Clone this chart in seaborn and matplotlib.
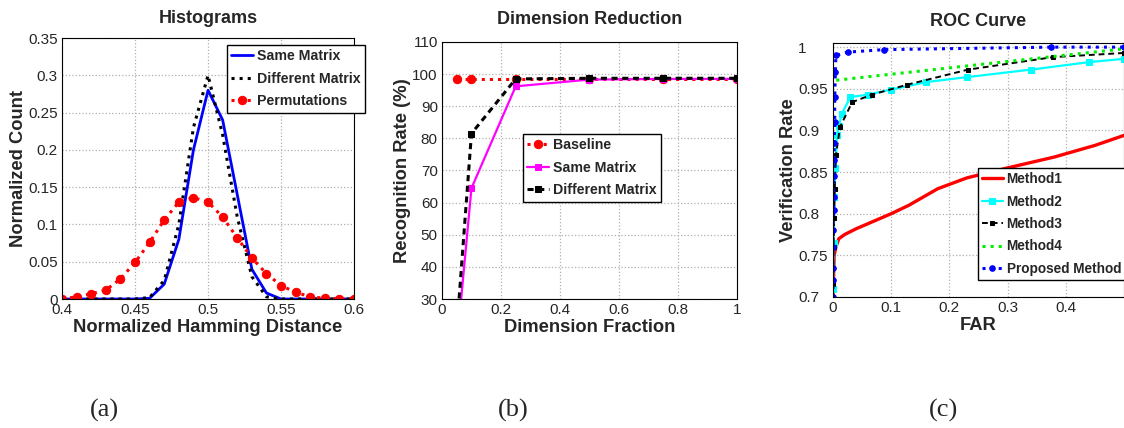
import matplotlib
matplotlib.use("Agg")
import matplotlib.pyplot as plt
import seaborn as sns
import numpy as np
from matplotlib.ticker import FormatStrFormatter

# ---- panel (a) histograms ----
hd_x = [0.40, 0.41, 0.42, 0.43, 0.44, 0.45, 0.46, 0.47, 0.48, 0.49, 0.50,
        0.51, 0.52, 0.53, 0.54, 0.55, 0.56, 0.57, 0.58, 0.59, 0.60]
same_hist = [0, 0, 0, 0, 0, 0, 0.001, 0.02, 0.08, 0.20, 0.28,
             0.24, 0.14, 0.04, 0.008, 0, 0, 0, 0, 0, 0]
diff_hist = [0, 0, 0, 0, 0, 0, 0.002, 0.025, 0.10, 0.23, 0.30,
             0.22, 0.11, 0.03, 0.003, 0, 0, 0, 0, 0, 0]
perm_hist = [0, 0.003, 0.007, 0.012, 0.027, 0.049, 0.076, 0.106, 0.130, 0.136, 0.130,
             0.110, 0.082, 0.055, 0.034, 0.018, 0.009, 0.003, 0.001, 0.0005, 0]

# ---- panel (b) dimension reduction ----
dim_frac = [0.05, 0.1, 0.25, 0.5, 0.75, 1.0]
baseline_rate = [98.5, 98.5, 98.5, 98.5, 98.5, 98.5]
same_rate = [15.2, 64.5, 96.2, 98.3, 98.5, 98.5]
diff_rate = [20.2, 81.5, 98.5, 98.7, 98.7, 98.7]

# ---- panel (c) ROC ----
m1_far = [0, 0.002, 0.005, 0.01, 0.02, 0.04, 0.1, 0.13, 0.18, 0.23, 0.3, 0.38, 0.45, 0.5]
m1_vr = [0.70, 0.75, 0.76, 0.77, 0.775, 0.782, 0.80, 0.81, 0.83, 0.843, 0.855, 0.868, 0.882, 0.894]
m2_far = [0, 0.001, 0.002, 0.004, 0.007, 0.01, 0.015, 0.03, 0.06, 0.1, 0.16, 0.23, 0.34, 0.44, 0.5]
m2_vr = [0.71, 0.765, 0.82, 0.855, 0.895, 0.905, 0.92, 0.94, 0.943, 0.949, 0.958, 0.964, 0.973, 0.982, 0.986]
m3_far = [0, 0.001, 0.002, 0.003, 0.005, 0.012, 0.033, 0.067, 0.128, 0.232, 0.378, 0.5]
m3_vr = [0.715, 0.76, 0.795, 0.83, 0.87, 0.904, 0.934, 0.943, 0.955, 0.973, 0.988, 0.993]
m4_far = [0, 0.001, 0.002, 0.5]
m4_vr = [0.70, 0.85, 0.96, 0.998]
pm_far = [0, 0, 0, 0, 0, 0.001, 0.001, 0.001, 0.002, 0.002, 0.003, 0.003, 0.004, 0.005,
          0.025, 0.087, 0.375, 0.5]
pm_vr = [0.70, 0.72, 0.735, 0.76, 0.78, 0.805, 0.82, 0.845, 0.865, 0.885, 0.91, 0.94, 0.97,
         0.99, 0.994, 0.997, 1.0, 1.0]

sns.set_style("white")
plt.rcParams['font.family'] = ['Liberation Sans', 'DejaVu Sans']

fig = plt.figure(figsize=(11.24, 4.28), dpi=100)
ax_a = fig.add_axes([0.0552, 0.3014, 0.2598, 0.6098])
ax_b = fig.add_axes([0.3932, 0.3014, 0.2625, 0.6005])
ax_c = fig.add_axes([0.7411, 0.3061, 0.2589, 0.5935])

TITLE = dict(fontsize=13, fontweight='bold')
LABEL = dict(fontsize=13.2, fontweight='bold')
LEG = dict(frameon=True, fancybox=False, edgecolor='black', framealpha=1,
           borderpad=0.3, handletextpad=0.3, handlelength=1.5,
           borderaxespad=0, bbox_transform=fig.transFigure, loc='upper left')


def style_ax(ax):
    ax.grid(True, linestyle=':', color='#b0b0b0', linewidth=0.9)
    ax.tick_params(direction='in', labelsize=11, length=3, pad=3)
    for s in ax.spines.values():
        s.set_color('black')
        s.set_linewidth(0.8)


def line(ax, x, y, **kw):
    sns.lineplot(x=x, y=y, ax=ax, estimator=None, sort=False, **kw)


# (a)
line(ax_a, hd_x, same_hist, color='#0000ff', linewidth=2.0, label='Same Matrix')
line(ax_a, hd_x, diff_hist, color='black', linewidth=2.2, linestyle=':', label='Different Matrix')
line(ax_a, hd_x, perm_hist, color='red', linewidth=2.2, linestyle=':', marker='o',
     markersize=6, markeredgecolor='red', label='Permutations')
ax_a.set_xlim(0.4, 0.6)
ax_a.set_ylim(0, 0.35)
ax_a.set_xticks([0.4, 0.45, 0.5, 0.55, 0.6])
ax_a.set_yticks(np.arange(0, 0.351, 0.05))
ax_a.xaxis.set_major_formatter(FormatStrFormatter('%g'))
ax_a.yaxis.set_major_formatter(FormatStrFormatter('%g'))
ax_a.set_title('Histograms', pad=11, **TITLE)
ax_a.set_xlabel('Normalized Hamming Distance', labelpad=1, **LABEL)
ax_a.set_ylabel('Normalized Count', labelpad=1, **LABEL)
style_ax(ax_a)
ax_a.legend(bbox_to_anchor=(227 / 1124, 1 - 45 / 428), labelspacing=0.6,
            prop={'weight': 'bold', 'size': 10.2}, **LEG)

# (b)
line(ax_b, dim_frac, baseline_rate, color='red', linewidth=2.2, linestyle=':', marker='o',
     markersize=6, markeredgecolor='red', label='Baseline')
line(ax_b, dim_frac, same_rate, color='#ff00ff', linewidth=1.6, marker='s',
     markersize=4, markeredgecolor='#ff00ff', label='Same Matrix')
line(ax_b, dim_frac, diff_rate, color='black', linewidth=2.2, linestyle=(0, (2, 1.5)), marker='s',
     markersize=5, markeredgecolor='black', label='Different Matrix')
ax_b.set_xlim(0, 1)
ax_b.set_ylim(30, 110)
ax_b.set_xticks([0, 0.2, 0.4, 0.6, 0.8, 1])
ax_b.set_yticks(range(30, 111, 10))
ax_b.xaxis.set_major_formatter(FormatStrFormatter('%g'))
ax_b.set_title('Dimension Reduction', pad=13, **TITLE)
ax_b.set_xlabel('Dimension Fraction', labelpad=1, **LABEL)
ax_b.set_ylabel('Recognition Rate (%)', labelpad=1, **LABEL)
style_ax(ax_b)
ax_b.legend(bbox_to_anchor=(523 / 1124, 1 - 134 / 428), labelspacing=0.6,
            prop={'weight': 'bold', 'size': 10.2}, **LEG)

# (c)
line(ax_c, m1_far, m1_vr, color='red', linewidth=2.4, label='Method1')
line(ax_c, m2_far, m2_vr, color='#00ffff', linewidth=1.6, marker='s', markersize=4,
     markeredgecolor='#00ffff', label='Method2')
line(ax_c, m3_far, m3_vr, color='black', linewidth=1.4, linestyle=(0, (3, 2)), marker='s',
     markersize=3.5, markeredgecolor='black', label='Method3')
line(ax_c, m4_far, m4_vr, color='#00ee00', linewidth=2.2, linestyle=':', label='Method4')
line(ax_c, pm_far, pm_vr, color='#0000ff', linewidth=2.2, linestyle=':', marker='o',
     markersize=4, markeredgecolor='#0000ff', label='Proposed Method')
ax_c.set_xlim(0, 0.5)
ax_c.set_ylim(0.7, 1.005)
ax_c.set_xticks([0, 0.1, 0.2, 0.3, 0.4])
ax_c.set_yticks([0.7, 0.75, 0.8, 0.85, 0.9, 0.95, 1.0])
ax_c.xaxis.set_major_formatter(FormatStrFormatter('%g'))
ax_c.yaxis.set_major_formatter(FormatStrFormatter('%g'))
ax_c.set_title('ROC Curve', pad=12, **TITLE)
ax_c.set_xlabel('FAR', labelpad=1, **LABEL)
ax_c.set_ylabel('Verification Rate', labelpad=1, **LABEL)
style_ax(ax_c)
# tick labels of this panel start at a fixed left edge, as in the original
ax_c.tick_params(axis='y', pad=25)
for t in ax_c.get_yticklabels():
    t.set_horizontalalignment('left')
ax_c.legend(bbox_to_anchor=(978 / 1124, 1 - 168 / 428), labelspacing=0.62,
            prop={'weight': 'bold', 'size': 9.8}, **LEG)

# panel letters
for x, s in [(104, '(a)'), (513, '(b)'), (943, '(c)')]:
    fig.text(x / 1124, 1 - 410 / 428, s, fontsize=19, family='Liberation Serif',
             ha='center', va='center')

fig.savefig('out.png', dpi=100)
